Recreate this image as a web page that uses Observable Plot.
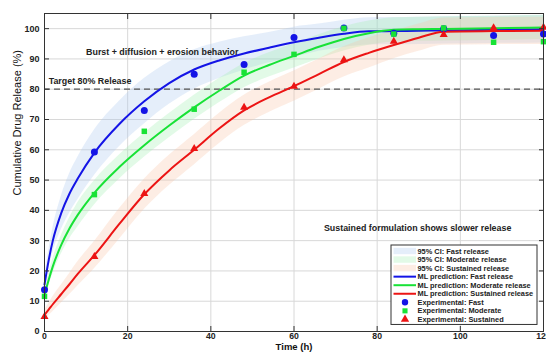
<!DOCTYPE html>
<html><head><meta charset="utf-8">
<script src="https://cdn.jsdelivr.net/npm/d3@7"></script>
<script src="https://cdn.jsdelivr.net/npm/@observablehq/plot@0.6"></script>
<style>
html,body{margin:0;padding:0;background:#fff;}
</style>
</head><body><div id="chart"></div>
<script>
// Experimental sampling times and measured values
const sampleTimes = [0, 12, 24, 36, 48, 60, 72, 84, 96, 108, 120];
const expFast = [13.8, 59.3, 73, 84.9, 88.2, 97.1, 100.2, 98.5, 100, 97.7, 98.2];
const expModerate = [11.6, 45.2, 66.1, 73.4, 85.6, 91.5, 100.1, 98.2, 100.2, 95.5, 95.7];
const expSustained = [4.9, 24.7, 45.5, 60.4, 74, 80.9, 89.7, 95.8, 98, 100.2, 100.4];

// ML prediction curves
const curveTimes = [0, 1, 2, 4, 6, 8, 12, 18, 24, 30, 36, 42, 48, 54, 60, 66, 72, 78, 84, 90, 96, 108, 120];
const fastCurve = [15.5, 23.5, 30, 39, 45.5, 50.5, 59, 68.5, 76, 82, 86.5, 89.5, 91.8, 93.7, 95.5, 97, 98.3, 99.1, 99.2, 99.3, 99.4, 99.6, 99.8];
const moderateCurve = [12, 17, 21.5, 28.5, 34, 38.5, 45.8, 54.3, 61.5, 68, 74, 79.5, 84.5, 88, 91, 94, 96.6, 98.5, 99.6, 99.8, 99.9, 100.1, 100.4];
const sustainedCurve = [5.5, 7.2, 9, 12.3, 15.6, 19, 25.2, 35.5, 45.3, 53.2, 60, 67, 73, 77.3, 81, 85, 89, 92, 94.6, 97, 99, 99.2, 99.3];

// 95% CI half-widths
const fastHW = [2, 3, 4, 5.5, 6.5, 7, 7.5, 7.5, 7.5, 7, 6.5, 6, 5.5, 5, 5, 4.5, 4.5, 4.5, 4.5, 4.5, 4.5, 4.5, 4.5];
const moderateHW = [1.5, 2, 2.5, 3, 3.5, 4, 4, 4, 4, 4, 4, 4, 4, 4, 4, 4, 4, 4, 4, 4, 4, 4, 4];
const sustainedHW = [1.5, 2, 2.5, 3, 3.5, 4, 4.5, 5, 5, 5, 5, 5, 5, 5, 5, 5, 5, 5, 4.5, 4.5, 4.5, 4.5, 4.5];

const xTicks = [0, 20, 40, 60, 80, 100, 120];
const yTicks = [0, 10, 20, 30, 40, 50, 60, 70, 80, 90, 100];
const targetRelease = 80;

const seriesNames = ["Fast", "Moderate", "Sustained"];
const legendLabels = [
  "95% CI: Fast release", "95% CI: Moderate release", "95% CI: Sustained release",
  "ML prediction: Fast release", "ML prediction: Moderate release", "ML prediction: Sustained release",
  "Experimental: Fast", "Experimental: Moderate", "Experimental: Sustained"
];
const annotations = [
  {label: "Burst + diffusion + erosion behavior", t: 10, v: 92.4},
  {label: "Target 80% Release", t: 1, v: 82.6},
  {label: "Sustained formulation shows slower release", t: 67.2, v: 34.2}
];

const lineColors = {Fast: "#1414e6", Moderate: "#18e236", Sustained: "#ec1414"};
const bandColors = {Fast: "#a9c8f0", Moderate: "#9ff0b0", Sustained: "#f8c4a4"};
const symbols = {Fast: "circle", Moderate: "square", Sustained: "triangle"};
const symbolR = {Fast: 3.5, Moderate: 3.1, Sustained: 3.0};

const curves = {Fast: fastCurve, Moderate: moderateCurve, Sustained: sustainedCurve};
const hws = {Fast: fastHW, Moderate: moderateHW, Sustained: sustainedHW};
const exps = {Fast: expFast, Moderate: expModerate, Sustained: expSustained};

const curveRows = seriesNames.flatMap(s => curveTimes.map((t, i) => ({s, t, v: curves[s][i], lo: curves[s][i] - hws[s][i], hi: curves[s][i] + hws[s][i]})));
const expRows = seriesNames.flatMap(s => sampleTimes.map((t, i) => ({s, t, v: exps[s][i]})));

const font = "'Liberation Sans', Arial, Helvetica, sans-serif";

const marks = [
  Plot.gridX(xTicks, {stroke: "#d8d8d8", strokeOpacity: 1, strokeWidth: 1}),
  Plot.gridY(yTicks, {stroke: "#d8d8d8", strokeOpacity: 1, strokeWidth: 1}),
];
for (const s of seriesNames) {
  marks.push(Plot.areaY(curveRows.filter(d => d.s === s), {x: "t", y1: "lo", y2: "hi", fill: bandColors[s], fillOpacity: 0.3, curve: "monotone-x"}));
}
marks.push(Plot.ruleY([targetRelease], {stroke: "#555", strokeWidth: 1.2, strokeDasharray: "6,4"}));
for (const s of seriesNames) {
  marks.push(Plot.line(curveRows.filter(d => d.s === s), {x: "t", y: "v", stroke: lineColors[s], strokeWidth: 2, curve: "monotone-x"}));
}
for (const s of seriesNames) {
  marks.push(Plot.dot(expRows.filter(d => d.s === s), {x: "t", y: "v", symbol: symbols[s], fill: lineColors[s], stroke: "none", r: symbolR[s]}));
}
marks.push(Plot.text(annotations, {x: "t", y: "v", text: "label", textAnchor: "start", fontSize: 8.9, fontWeight: "bold", fill: "#222"}));
marks.push(Plot.frame({stroke: "#333", strokeWidth: 1}));
marks.push(Plot.axisX(xTicks, {anchor: "bottom", tickSize: -5, tickPadding: 6, stroke: "#333", label: null, fontWeight: "bold", fontSize: 8.7}));
marks.push(Plot.axisX(xTicks, {anchor: "top", tickSize: -5, tickFormat: () => "", stroke: "#333", label: null}));
marks.push(Plot.axisY(yTicks, {anchor: "left", tickSize: -5, tickPadding: 10, stroke: "#333", label: null, fontWeight: "bold"}));
marks.push(Plot.axisY(yTicks, {anchor: "right", tickSize: -5, tickFormat: () => "", stroke: "#333", label: null}));
marks.push(Plot.text(["Time (h)"], {text: d => d, frameAnchor: "bottom", dy: 18, fontSize: 9.5, fontWeight: "bold", fill: "#111"}));
marks.push(Plot.text(["Cumulative Drug Release (%)"], {text: d => d, frameAnchor: "left", dx: -27, dy: 23, rotate: -90, fontSize: 11, fontWeight: "normal", fill: "#111"}));

const chart = Plot.plot({
  width: 546, height: 354,
  marginLeft: 44, marginRight: 3, marginTop: 13, marginBottom: 23,
  style: {fontFamily: font, fontSize: "9px", fontWeight: "bold", background: "#fff", color: "#222"},
  x: {domain: [0, 120], label: null},
  y: {domain: [0, 105], label: null},
  marks
});
document.getElementById("chart").appendChild(chart);

// Legend box (bottom-right inside axes)
const svg = d3.select(chart);
const lx = 391, ly = 245, lw = 146, rowH = 8.55;
const lg = svg.append("g").attr("font-family", font).attr("font-size", 7.4).attr("font-weight", "bold").attr("text-anchor", "start");
lg.append("rect").attr("x", lx).attr("y", ly).attr("width", lw).attr("height", rowH * legendLabels.length + 2.5)
  .attr("fill", "#fff").attr("stroke", "#333").attr("stroke-width", 1);
legendLabels.forEach((label, i) => {
  const cy = ly + 6 + i * rowH;
  const s = seriesNames[i % 3];
  const kind = Math.floor(i / 3);
  if (kind === 0) {
    lg.append("rect").attr("x", lx + 2.5).attr("y", cy - 3.2).attr("width", 22.5).attr("height", 6.4)
      .attr("fill", bandColors[s]).attr("fill-opacity", 0.3);
  } else if (kind === 1) {
    lg.append("line").attr("x1", lx + 2.5).attr("x2", lx + 25).attr("y1", cy).attr("y2", cy)
      .attr("stroke", lineColors[s]).attr("stroke-width", 2);
  } else {
    const sym = d3.symbol().type(s === "Fast" ? d3.symbolCircle : s === "Moderate" ? d3.symbolSquare : d3.symbolTriangle)
      .size(s === "Fast" ? 32 : s === "Moderate" ? 26 : 30);
    lg.append("path").attr("d", sym()).attr("transform", `translate(${lx + 14},${cy})`).attr("fill", lineColors[s]);
  }
  lg.append("text").attr("x", lx + 26.5).attr("y", cy).attr("dy", "0.35em").attr("fill", "#222").attr("text-anchor", "start").text(label);
});
</script>
</body></html>
